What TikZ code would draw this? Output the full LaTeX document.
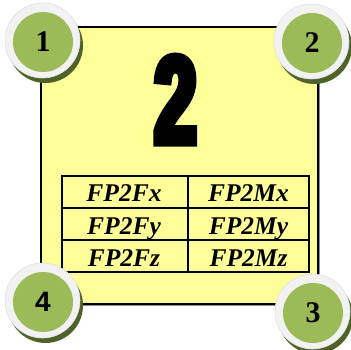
\documentclass[tikz,border=0pt]{standalone}
\usepackage{fontspec}
\setmainfont{Liberation Serif}
\newfontfamily\sansbold{Liberation Sans}[BoldFont={* Bold}]
\newfontfamily\heavyfont{Liberation Sans}[BoldFont={* Bold},BoldFeatures={FakeStretch=0.61,FakeBold=6}]
\definecolor{paper}{HTML}{FFFF99}
\definecolor{olive}{HTML}{9BBB59}
\definecolor{olivedark}{HTML}{4F6228}
\definecolor{ringwhite}{HTML}{F2F2F2}
\tikzset{
  badgeshadow/.style={circle, minimum size=75pt, inner sep=0pt, fill=olivedark},
  badgering/.style={circle, minimum size=75pt, inner sep=0pt, fill=ringwhite, draw=black!12, line width=0.6pt},
  badge/.style={circle, minimum size=60pt, inner sep=0pt, fill=olive},
  serifnum/.style={font=\fontsize{30}{30}\selectfont\bfseries},
  sansnum/.style={font=\fontsize{28}{28}\selectfont\sansbold\bfseries},
  cell/.style={anchor=base, inner sep=0pt, font=\fontsize{25.5}{25.5}\selectfont\bfseries\itshape},
  gridline/.style={line width=1.3pt, black}
}
\begin{document}
\begin{tikzpicture}[x=1pt, y=-1pt]
\useasboundingbox (0,0) rectangle (351,350);

% card with a soft grey shadow
\fill[black!45] (42.5,28.5) rectangle (319.5,305.5);
\node[draw=black, line width=1.5pt, fill=paper, inner sep=0pt,
      minimum width=277pt, minimum height=277pt] (card) at (179.5,165.5) {};

% big number
\node[font=\fontsize{124}{124}\selectfont\heavyfont\bfseries] (bignum) at (175.5,99.5) {2};

% table of labels
\draw[gridline] (62,176) rectangle (309,272);
\draw[gridline] (62,208) -- (309,208);
\draw[gridline] (62,240) -- (309,240);
\draw[gridline] (188,176) -- (188,272);
\node[cell] (fx) at (124,202) {FP2Fx};
\node[cell] (mx) at (248.5,202) {FP2Mx};
\node[cell] (fy) at (124,234) {FP2Fy};
\node[cell] (my) at (248.5,234) {FP2My};
\node[cell] (fz) at (124,266) {FP2Fz};
\node[cell] (mz) at (248.5,266) {FP2Mz};

% corner badges
\foreach \n/\cx/\cy in {1/43/42, 2/312/43, 3/313/313, 4/43/302} {
  \node[badgeshadow] (s\n) at (\cx+2.5,\cy+3.5) {};
  \node[badgering] (r\n) at (\cx-0.5,\cy-1.5) {};
}
\node[badge, serifnum] (b1) at (43,42) {1};
\node[badge, serifnum] (b2) at (312,43) {2};
\node[badge, serifnum] (b3) at (313,313) {3};
\node[badge, sansnum] (b4) at (43,302) {4};
\end{tikzpicture}
\end{document}
